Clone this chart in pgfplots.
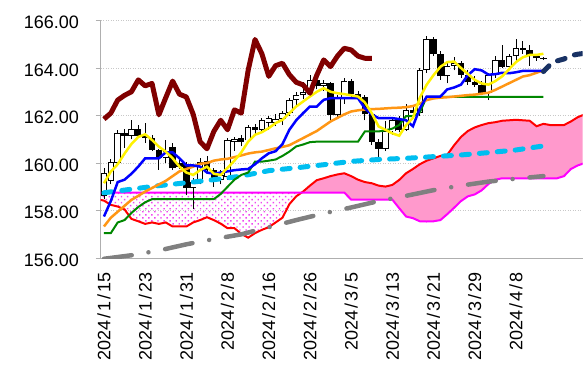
\documentclass[border=0pt]{standalone}
\usepackage{fontspec}
\setmainfont{Liberation Sans}
\usepackage{pgfplots}
\usepackage{pgfplotstable}
\pgfplotsset{compat=1.18}
\usepgfplotslibrary{fillbetween}
\usetikzlibrary{patterns.meta}

\definecolor{axgray}{RGB}{175,175,175}
\definecolor{gridgray}{RGB}{200,200,200}
\definecolor{cyanline}{RGB}{0,190,240}
\definecolor{navyline}{RGB}{25,50,100}
\definecolor{chikou}{RGB}{128,0,0}
\definecolor{orangeline}{RGB}{255,150,20}
\definecolor{greenline}{RGB}{0,135,0}
\definecolor{pinkfill}{RGB}{255,153,204}
\definecolor{mag}{RGB}{255,0,255}
\definecolor{dotmag}{RGB}{240,70,240}
\definecolor{grayline}{RGB}{128,128,128}

\pgfplotstableread{
i O H L C
0 158.60 159.80 158.50 159.57
1 159.25 160.15 159.10 160.05
2 160.00 161.40 159.90 161.25
4 161.14 161.82 161.00 161.44
9 160.20 160.97 160.00 160.50
13 158.95 159.35 158.05 159.22
14 159.22 160.20 159.10 160.05
17 159.30 159.70 159.10 159.50
18 159.40 161.05 159.30 160.97
19 160.90 161.10 160.50 161.00
21 160.95 161.60 160.85 161.50
23 161.40 161.90 161.30 161.80
24 161.70 162.00 161.40 161.90
25 161.70 162.05 161.55 161.85
26 161.85 162.20 161.60 162.10
27 162.10 162.75 162.00 162.65
28 162.65 163.00 162.45 162.85
29 162.85 163.40 162.70 163.00
30 163.00 163.70 162.95 163.50
32 163.25 163.50 163.05 163.35
34 162.03 162.85 161.95 162.75
35 162.75 163.60 162.50 163.45
41 160.60 161.75 160.50 161.33
42 161.33 161.95 161.20 161.80
44 161.40 162.50 161.35 162.24
46 162.10 164.00 162.00 163.90
47 163.90 165.35 163.80 165.20
50 163.65 164.20 163.35 164.10
51 164.10 164.45 163.90 164.20
56 162.94 163.80 162.65 163.70
57 163.70 164.50 163.60 164.34
59 164.06 164.60 163.90 164.50
60 164.50 165.20 164.30 164.83
}\upcandles

\pgfplotstableread{
i O H L C
3 161.25 161.45 160.65 161.15
5 161.44 161.60 161.05 161.15
6 161.15 161.68 160.84 161.05
7 161.05 161.20 160.50 160.55
8 160.55 160.60 159.71 160.20
10 160.69 160.83 159.70 159.78
11 160.00 160.20 159.75 159.85
12 159.95 160.05 158.65 158.95
15 160.10 160.30 159.60 159.71
16 159.71 159.80 159.00 159.36
20 161.05 161.20 160.70 160.88
22 161.50 161.65 161.20 161.40
31 163.50 163.65 163.10 163.25
33 163.35 163.40 161.70 162.03
36 163.45 163.55 162.80 162.90
37 162.90 163.05 162.60 162.78
38 162.78 162.85 161.80 162.05
39 162.05 162.10 160.75 160.90
40 160.90 161.00 160.25 160.60
43 161.80 162.00 161.30 161.40
45 162.24 162.45 161.95 162.10
48 165.20 165.30 164.50 164.60
49 164.60 164.70 163.50 163.65
52 164.20 164.30 163.60 163.72
53 163.72 163.90 163.30 163.40
54 163.40 163.65 163.20 163.29
55 163.29 163.45 162.85 162.94
58 164.34 164.97 164.00 164.06
61 164.83 165.15 164.60 164.76
62 164.76 164.97 164.10 164.50
63 164.50 164.60 164.30 164.41
64 164.42 164.45 164.35 164.40
}\downcandles

\pgfplotstableread{
i v
0 159.15
1 159.64
2 159.95
3 160.40
4 160.80
5 161.10
6 161.21
7 160.97
8 160.69
9 160.48
10 160.20
11 159.85
12 159.60
13 159.50
14 159.70
15 159.85
16 159.55
17 159.50
18 159.80
19 160.10
20 160.45
21 160.90
22 161.19
23 161.30
24 161.47
25 161.68
26 161.82
27 162.10
28 162.38
29 162.59
30 162.80
31 163.00
32 163.15
33 163.00
34 162.94
35 162.90
36 162.85
37 162.80
38 162.55
39 162.10
40 161.54
41 161.40
42 161.25
43 161.15
44 161.60
45 161.90
46 162.75
47 163.30
48 163.70
49 164.05
50 164.25
51 164.27
52 164.00
53 163.75
54 163.50
55 163.35
56 163.30
57 163.45
58 163.65
59 163.95
60 164.25
61 164.45
62 164.55
63 164.55
64 164.60
}\maFive

\pgfplotstableread{
i v
0 157.75
1 158.40
2 159.20
3 159.30
4 159.55
5 159.85
6 160.20
7 160.20
8 160.20
9 160.45
10 160.45
11 160.20
12 159.90
13 159.90
14 159.85
15 159.60
16 159.55
17 159.60
18 159.65
19 159.70
20 159.73
21 159.75
22 159.95
23 160.20
24 160.41
25 160.50
26 160.80
27 161.40
28 161.80
29 162.10
30 162.38
31 162.38
32 162.66
33 162.73
34 162.73
35 162.73
36 162.73
37 162.73
38 162.30
39 162.05
40 161.89
41 161.89
42 161.89
43 161.85
44 161.80
45 161.55
46 162.30
47 162.80
48 162.80
49 162.80
50 163.10
51 163.18
52 163.30
53 163.70
54 163.95
55 163.90
56 163.72
57 163.74
58 163.80
59 163.78
60 163.82
61 163.88
62 163.88
63 163.88
64 163.88
}\tenkan

\pgfplotstableread{
i v
0 157.33
1 157.70
2 157.95
3 158.20
4 158.45
5 158.62
6 158.80
7 158.95
8 159.10
9 159.25
10 159.45
11 159.65
12 159.75
13 159.85
14 159.97
15 160.00
16 160.10
17 160.15
18 160.18
19 160.25
20 160.32
21 160.40
22 160.45
23 160.48
24 160.55
25 160.62
26 160.68
27 160.75
28 160.90
29 161.05
30 161.20
31 161.35
32 161.55
33 161.75
34 161.90
35 162.05
36 162.17
37 162.22
38 162.25
39 162.27
40 162.28
41 162.30
42 162.32
43 162.33
44 162.35
45 162.40
46 162.50
47 162.65
48 162.72
49 162.75
50 162.77
51 162.80
52 162.83
53 162.86
54 162.88
55 162.92
56 162.96
57 163.08
58 163.22
59 163.36
60 163.50
61 163.64
62 163.70
63 163.80
64 163.90
}\maTwentyFive

\pgfplotstableread{
i v
0 157.05
1 157.05
2 157.50
3 157.60
4 157.90
5 158.15
6 158.35
7 158.48
8 158.48
16 158.48
17 158.70
18 159.00
19 159.30
20 159.50
21 159.60
22 160.06
23 160.06
24 160.10
25 160.15
26 160.30
27 160.48
28 160.70
29 160.78
30 160.88
31 160.90
37 160.90
38 161.33
40 161.33
41 161.38
42 161.45
43 161.60
44 161.98
45 161.98
46 162.13
47 162.78
64 162.78
}\kijun

\pgfplotstableread{
i v
0 158.75
4 158.90
8 159.05
12 159.17
16 159.30
20 159.45
24 159.68
28 159.80
32 159.93
36 160.07
40 160.15
44 160.20
48 160.27
52 160.34
56 160.44
60 160.55
64 160.72
}\maSeventyFive

\pgfplotstableread{
i v
0 155.97
4 156.12
8 156.32
12 156.58
16 156.80
20 157.00
24 157.30
28 157.60
32 157.88
36 158.13
40 158.40
44 158.62
48 158.86
52 159.05
56 159.22
60 159.34
64 159.45
}\maTwoHundred

\pgfplotstableread{
i v
-0.5 158.45
0 158.42
1 158.24
2 158.17
3 158.05
4 157.65
5 157.55
6 157.44
7 157.50
8 157.44
9 157.50
10 157.33
11 157.33
12 157.33
13 157.50
14 157.60
15 157.72
16 157.60
17 157.45
18 157.26
19 157.26
20 157.02
21 156.86
22 157.05
23 157.19
24 157.30
25 157.50
26 157.70
27 158.27
28 158.60
29 158.80
30 159.05
31 159.28
32 159.36
33 159.45
34 159.52
35 159.57
36 159.45
37 159.30
38 159.20
39 159.15
40 159.05
41 159.01
42 159.08
43 159.29
44 159.57
45 159.75
46 159.95
47 160.10
48 160.20
49 160.30
50 160.35
51 160.75
52 161.10
53 161.35
54 161.50
55 161.60
56 161.68
57 161.72
58 161.78
59 161.80
60 161.82
61 161.80
62 161.78
63 161.55
64 161.65
65 161.60
66 161.60
67 161.60
68 161.75
69 161.93
70 162.05
}\spanA

\pgfplotstableread{
i v
-0.5 158.76
0 158.76
35 158.76
36 158.46
42 158.46
43 158.10
44 157.75
45 157.68
46 157.55
47 157.54
48 157.55
49 157.60
50 157.85
51 158.12
52 158.40
53 158.60
54 158.68
55 158.85
56 159.12
57 159.30
58 159.36
66 159.36
67 159.45
68 159.75
69 159.90
70 160.00
}\spanB

\pgfplotstableread{
i v
0 161.85
1 162.10
2 162.65
3 162.85
4 163.00
5 163.50
6 163.25
7 163.35
8 162.03
9 162.75
10 163.45
11 162.90
12 162.78
13 162.05
14 160.90
15 160.60
16 161.33
17 161.80
18 161.40
19 162.24
20 162.10
21 163.90
22 165.20
23 164.60
24 163.65
25 164.10
26 164.20
27 163.72
28 163.40
29 163.29
30 162.94
31 163.70
32 164.34
33 164.06
34 164.50
35 164.83
36 164.76
37 164.50
38 164.41
39 164.41
}\chikouspan

\pgfplotstableread{
i v
64 163.85
65 164.15
66 164.30
67 164.38
68 164.52
69 164.58
70 164.62
}\navyproj

\newcommand\dsl{\kern2pt/\kern2pt}

\begin{document}
\begin{tikzpicture}
\begin{axis}[
  name=ax,
  scale only axis,
  width=482.4pt, height=237.8pt,
  xmin=-0.5, xmax=69.7,
  ymin=156, ymax=166,
  axis lines*=left,
  axis line style={draw=axgray, line width=0.9pt},
  ytick={156,158,...,166},
  xtick={0,6,...,60},
  xticklabels={2024\dsl1\dsl15,2024\dsl1\dsl23,2024\dsl1\dsl31,2024\dsl2\dsl8,2024\dsl2\dsl16,2024\dsl2\dsl26,2024\dsl3\dsl5,2024\dsl3\dsl13,2024\dsl3\dsl21,2024\dsl3\dsl29,2024\dsl4\dsl8},
  ymajorgrids,
  grid style={draw=gridgray, line width=0.9pt, dash pattern=on 1pt off 1.5pt},
  xtick style={draw=none},
  ytick style={draw=axgray, line width=0.9pt},
  major tick length=5pt,
  tick align=outside,
  tick label style={font=\fontsize{18}{21}\selectfont},
  /pgf/number format/assume math mode=true,
  yticklabel style={/pgf/number format/fixed, /pgf/number format/fixed zerofill, /pgf/number format/precision=2, anchor=east, xshift=-13pt, yshift=-2pt},
  xticklabel style={rotate=90, anchor=east},
  xticklabel shift=6pt,
  clip=true,
]
% cloud lines (named) and fill
\addplot[name path=A, draw=red, line width=2pt, mark=none] table[x=i, y=v] {\spanA};
\addplot[name path=B, draw=mag, line width=2pt, mark=none] table[x=i, y=v] {\spanB};
\addplot[fill=pinkfill, draw=none] fill between[of=A and B, split,
   every segment no 0/.style={pattern={Dots[radius=1pt, distance=4.3pt, angle=45]}, pattern color=dotmag},
   every segment no 1/.style={fill=pinkfill}];

% wicks
\addplot[draw=none, mark=none, forget plot, error bars/.cd, y dir=plus, y explicit, error mark=none,
  error bar style={draw=black, line width=0.9pt}]
  table[x=i, y=L, y error expr=\thisrow{H}-\thisrow{L}] {\upcandles};
\addplot[draw=none, mark=none, forget plot, error bars/.cd, y dir=plus, y explicit, error mark=none,
  error bar style={draw=black, line width=0.9pt}]
  table[x=i, y=L, y error expr=\thisrow{H}-\thisrow{L}] {\downcandles};
% black bodies
\addplot[draw=none, mark=none, forget plot, error bars/.cd, y dir=plus, y explicit, error mark=none,
  error bar style={draw=black, line width=6.4pt}]
  table[x=i, y=C, y error expr=\thisrow{O}-\thisrow{C}] {\downcandles};
% white bodies
\addplot[draw=none, mark=none, forget plot, error bars/.cd, y dir=plus, y explicit, error mark=none,
  error bar style={draw=black, line width=6.4pt}]
  table[x=i, y=O, y error expr=\thisrow{C}-\thisrow{O}] {\upcandles};
\addplot[draw=none, mark=none, forget plot, error bars/.cd, y dir=plus, y explicit, error mark=none,
  error bar style={draw=white, line width=4.6pt}]
  table[x=i, y expr=\thisrow{O}+0.04, y error expr=\thisrow{C}-\thisrow{O}-0.08] {\upcandles};

% moving averages and lines
\addplot[draw=grayline, line width=4.5pt, line cap=round, dash pattern=on 28pt off 17pt on 0.01pt off 17pt, mark=none] table[x=i, y=v] {\maTwoHundred};
\addplot[draw=cyanline, line width=5pt, line cap=round, dash pattern=on 8pt off 10pt, mark=none] table[x=i, y=v] {\maSeventyFive};
\addplot[draw=greenline, line width=2pt, mark=none] table[x=i, y=v] {\kijun};
\addplot[draw=orangeline, line width=2.5pt, mark=none] table[x=i, y=v] {\maTwentyFive};
\addplot[draw=blue, line width=2.5pt, mark=none] table[x=i, y=v] {\tenkan};
\addplot[draw=yellow, line width=2.5pt, mark=none] table[x=i, y=v] {\maFive};
\addplot[draw=chikou, line width=5pt, line join=round, mark=none] table[x=i, y=v] {\chikouspan};
\addplot[draw=navyline, line width=5pt, line cap=round, dash pattern=on 8pt off 10pt, mark=none] table[x=i, y=v] {\navyproj};
\end{axis}
\path (ax.south west) ++(-100.6pt,-108.7pt) rectangle ++(583pt,367pt);
\end{tikzpicture}
\end{document}
